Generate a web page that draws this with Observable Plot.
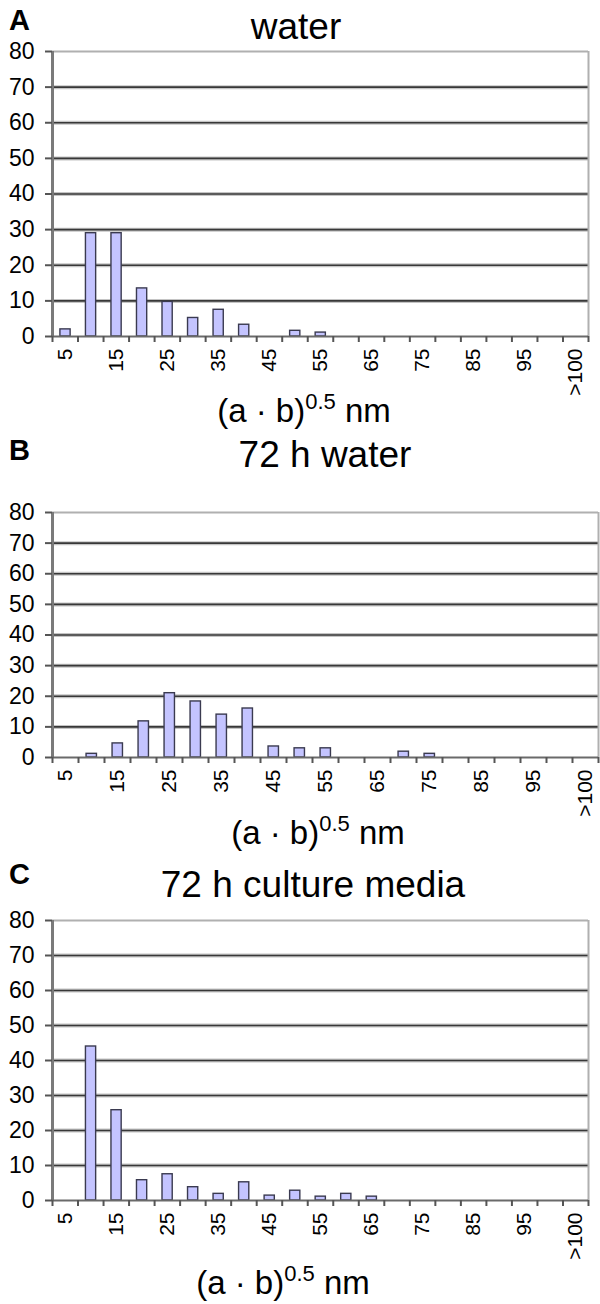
<!DOCTYPE html>
<html>
<head>
<meta charset="utf-8">
<script src="https://cdn.jsdelivr.net/npm/d3@7"></script>
<script src="https://cdn.jsdelivr.net/npm/@observablehq/plot@0.6"></script>
<style>
  html, body { margin: 0; padding: 0; background: #fff; }
  #root { position: relative; width: 600px; height: 1304px; overflow: hidden; font-family: "Liberation Sans", Arial, sans-serif; }
  .abs { position: absolute; line-height: 1; }
  .letter { font-weight: bold; font-size: 29px; color: #000; }
  .title { font-size: 37px; color: #000; white-space: nowrap; transform: translateX(-50%); }
  .xlab { font-size: 33px; color: #000; white-space: nowrap; transform: translateX(-50%); }
  .xlab sup { font-size: 22px; vertical-align: 0; position: relative; top: -13px; }
</style>
</head>
<body>
<div id="root"></div>
<script>
// Size bins (nm)
const categories = ["5","10","15","20","25","30","35","40","45","50","55","60","65","70","75","80","85","90","95","100",">100"];
const labelledBins = ["5","15","25","35","45","55","65","75","85","95",">100"];
const yTicks = [0,10,20,30,40,50,60,70,80];

// Panel values (counts per bin)
const waterValues =   [2, 29, 29, 13.5, 9.7, 5.2, 7.5, 3.3, 0, 1.6, 1.1, 0, 0, 0, 0, 0, 0, 0, 0, 0, 0];
const water72Values = [0, 1.2, 4.6, 11.8, 21, 18.3, 14, 16, 3.6, 3, 3, 0, 0, 1.9, 1.2, 0, 0, 0, 0, 0, 0];
const mediaValues =   [0, 44, 25.8, 5.8, 7.5, 3.8, 1.9, 5.2, 1.4, 2.8, 1.1, 1.9, 1.1, 0, 0, 0, 0, 0, 0, 0, 0];

const panelLetters = ["A","B","C"];
const panelTitles = ["water","72 h water","72 h culture media"];

const panels = [
  {values: waterValues,   letter: panelLetters[0], title: panelTitles[0], top: 51,  bottom: 336, right: 588, titleX: 296, titleY: 8,   letterY: 6,   xlabX: 304, xlabY: 394},
  {values: water72Values, letter: panelLetters[1], title: panelTitles[1], top: 512, bottom: 757, right: 598, titleX: 325, titleY: 436, letterY: 436, xlabX: 318, xlabY: 816},
  {values: mediaValues,   letter: panelLetters[2], title: panelTitles[2], top: 920, bottom: 1200, right: 588, titleX: 313, titleY: 866, letterY: 860, xlabX: 283, xlabY: 1266}
];

const root = document.getElementById("root");
const left = 52;

for (const p of panels) {
  const data = categories.map((c, i) => ({i, c, v: p.values[i]}));
  const mTop = 12, mBottom = 70;
  const svgTop = p.top - mTop;
  const height = (p.bottom - p.top) + mTop + mBottom;
  const chart = Plot.plot({
    width: 600,
    height,
    marginLeft: left,
    marginRight: 600 - p.right,
    marginTop: mTop,
    marginBottom: mBottom,
    style: {fontFamily: "'Liberation Sans', Arial, sans-serif", color: "#000", background: "transparent", overflow: "visible"},
    x: {type: "linear", domain: [0, categories.length], axis: null},
    y: {domain: [0, 80], axis: null},
    marks: [
      // gridlines 10..70
      Plot.ruleY(yTicks.filter(t => t > 0 && t < 80), {stroke: "#c4c4c4", strokeWidth: 4}),
      Plot.ruleY(yTicks.filter(t => t > 0 && t < 80), {stroke: "#383838", strokeWidth: 1.7}),
      // top border
      Plot.ruleY([80], {stroke: "#b0b0b0", strokeWidth: 2}),
      // right border
      Plot.ruleX([categories.length], {stroke: "#b0b0b0", strokeWidth: 2}),
      // bars
      Plot.rectY(data.filter(d => d.v > 0), {
        x1: d => d.i + 0.31, x2: d => d.i + 0.71, y: "v",
        fill: "#c4c4ff", stroke: "#3a3a50", strokeWidth: 1.4
      }),
      // y axis line and x axis line
      Plot.ruleX([0], {stroke: "#7a7a7a", strokeWidth: 3}),
      Plot.ruleY([0], {stroke: "#6a6a6a", strokeWidth: 2.2}),
      // y ticks
      Plot.axisY({ticks: yTicks, label: null, tickSize: 7, tickPadding: 11, fontSize: 23, stroke: "#555", strokeWidth: 2}),
      // x tick marks at bin boundaries
      Plot.axisX({ticks: d3.range(0, categories.length + 1), label: null, tickSize: 6, tickFormat: () => "", stroke: "#555", strokeWidth: 2}),
      // x tick labels
      Plot.axisX({
        ticks: labelledBins.map(c => categories.indexOf(c) + 0.5),
        label: null,
        tickSize: 0, tickPadding: 12, tickRotate: -90, fontSize: 21,
        tickFormat: t => categories[Math.floor(t)]
      })
    ]
  });
  chart.style.position = "absolute";
  chart.style.left = "0px";
  chart.style.top = svgTop + "px";
  root.appendChild(chart);

  const L = document.createElement("div");
  L.className = "abs letter";
  L.style.left = "9px"; L.style.top = p.letterY + "px";
  L.textContent = p.letter;
  root.appendChild(L);

  const T = document.createElement("div");
  T.className = "abs title";
  T.style.left = p.titleX + "px"; T.style.top = p.titleY + "px";
  T.textContent = p.title;
  root.appendChild(T);

  const X = document.createElement("div");
  X.className = "abs xlab";
  X.style.left = p.xlabX + "px"; X.style.top = p.xlabY + "px";
  X.innerHTML = "(a &middot; b)<sup>0.5</sup> nm";
  root.appendChild(X);
}
</script>
</body>
</html>
